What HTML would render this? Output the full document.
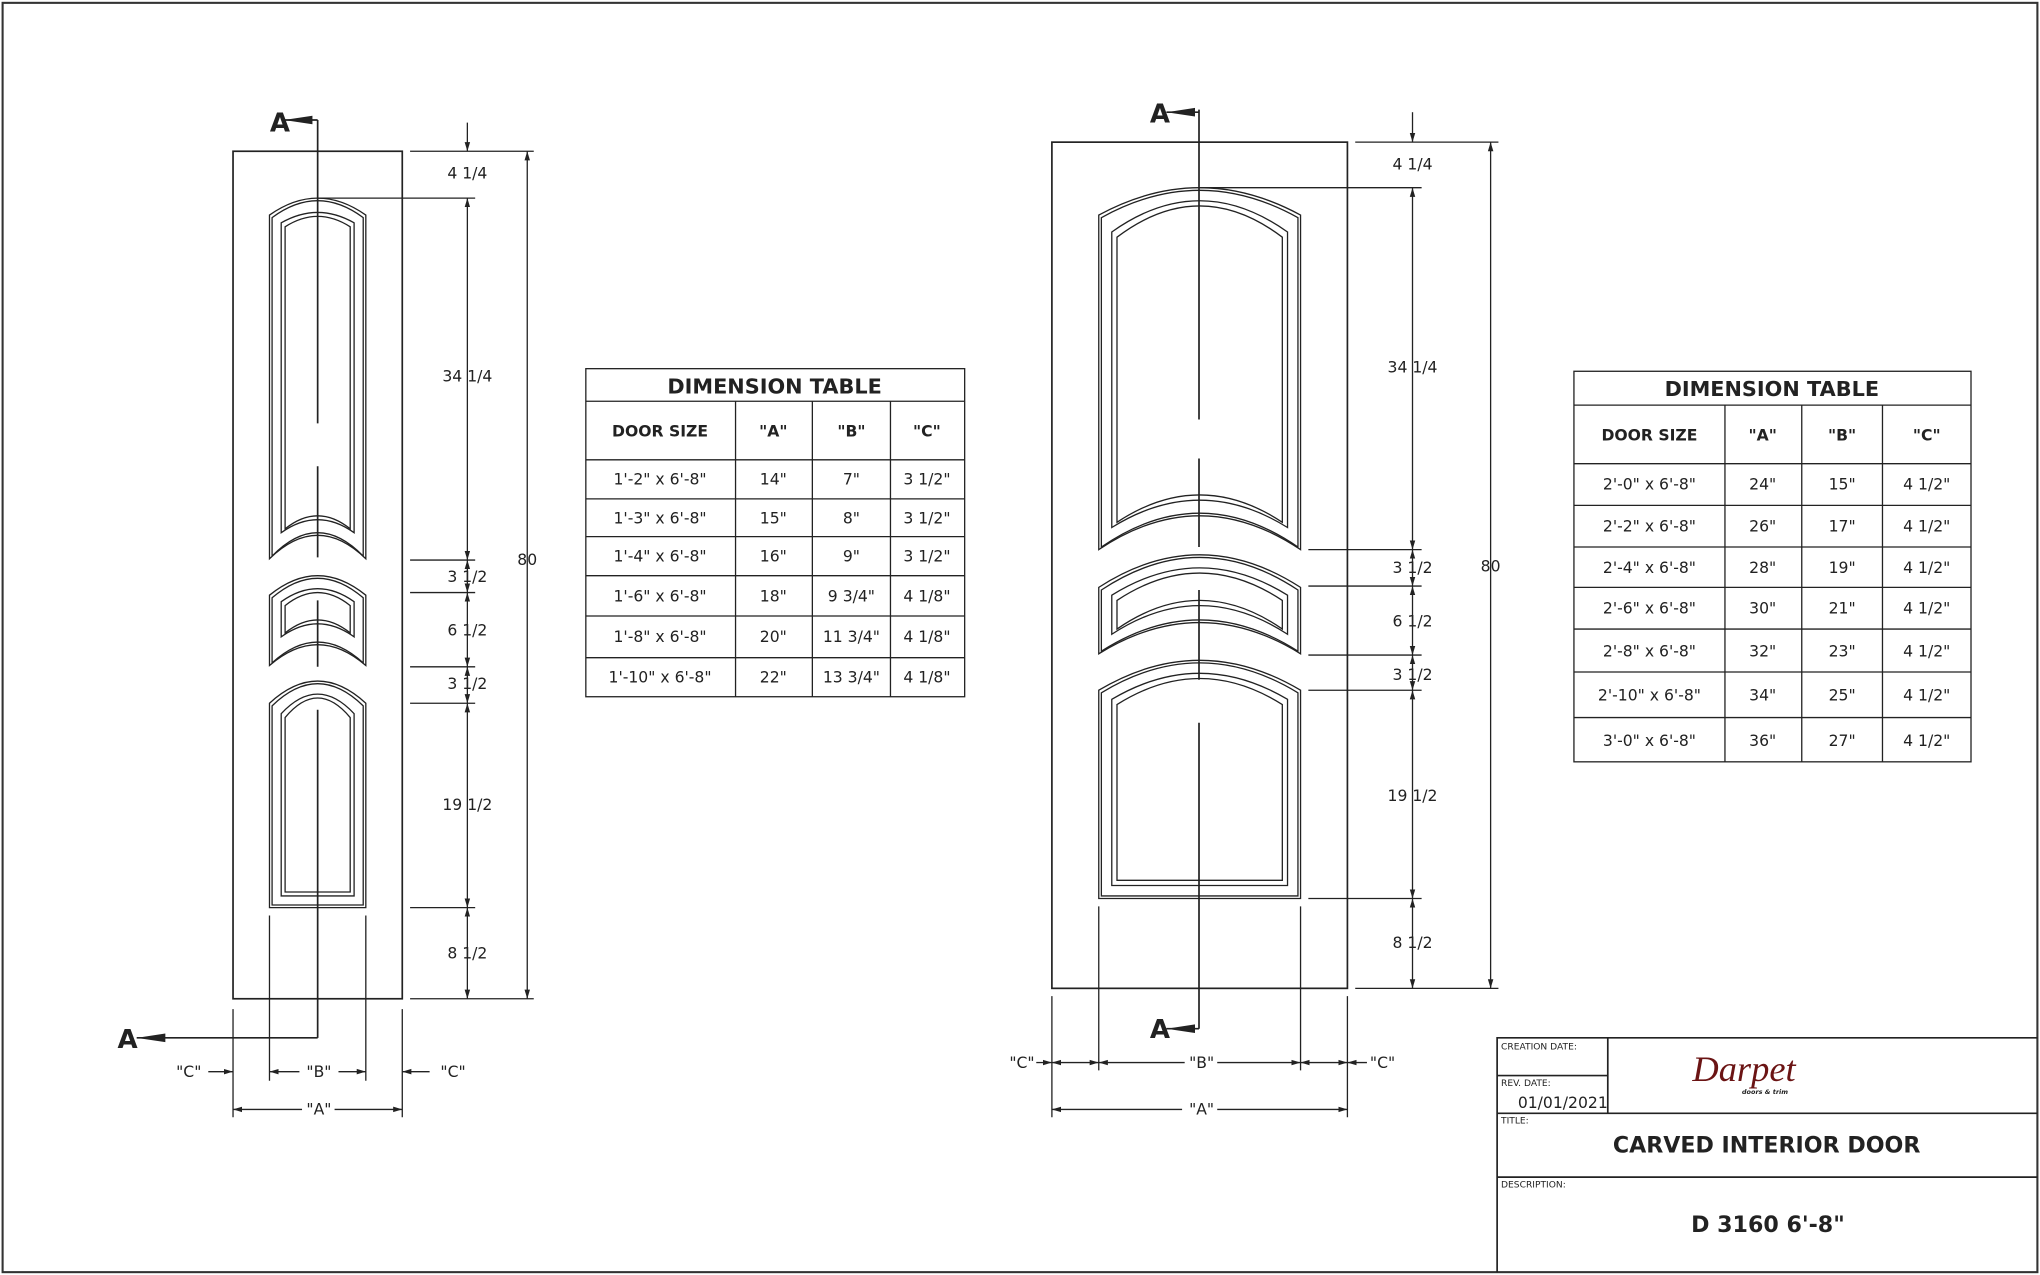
<!DOCTYPE html>
<html><head><meta charset="utf-8"><style>
html,body{margin:0;padding:0;background:#fff}
svg{display:block}
text{font-family:"DejaVu Sans","Liberation Sans",sans-serif;fill:#222}
text.logo{font-family:"Liberation Serif",serif;font-style:italic;fill:#6b1414}
</style></head><body>
<svg width="2040" height="1275" viewBox="0 0 1567 979" xmlns="http://www.w3.org/2000/svg">
<defs>
<marker id="ar" viewBox="0 0 10 10" refX="10" refY="5" markerWidth="7" markerHeight="7" orient="auto-start-reverse" markerUnits="userSpaceOnUse"><path d="M0,2 L10,5 L0,8Z" fill="#222"/></marker>
<marker id="big" viewBox="0 0 10 10" refX="10" refY="5" markerWidth="22" markerHeight="22" orient="auto" markerUnits="userSpaceOnUse"><path d="M0,3.5 L10,5 L0,6.5Z" fill="#222"/></marker>
</defs>
<rect x="2" y="2" width="1563" height="975" fill="none" stroke="#333" stroke-width="1.6"/>
<g fill="none" stroke="#222" stroke-width="1">
<!-- LEFT DOOR -->
<rect x="179" y="116" width="130" height="651" stroke-width="1.3"/>
<path d="M207,429 L207,165 Q244,139 281,165 L281,429 Q244,393 207,429Z"/>
<path d="M209,427 L209,167 Q244,141 279,167 L279,427 Q244,391 209,427Z"/>
<path d="M216,409 L216,171 Q244,155 272,171 L272,409 Q244,389 216,409Z"/>
<path d="M219,406 L219,174 Q244,158 269,174 L269,406 Q244,386 219,406Z"/>
<path d="M207,511 L207,457 Q244,427 281,457 L281,511 Q244,479 207,511Z"/>
<path d="M209,509 L209,459 Q244,429 279,459 L279,509 Q244,477 209,509Z"/>
<path d="M216,489 L216,462 Q244,442 272,462 L272,489 Q244,469 216,489Z"/>
<path d="M219,486 L219,465 Q244,445 269,465 L269,486 Q244,466 219,486Z"/>
<path d="M207,697 L207,540 Q244,506 281,540 L281,697Z"/>
<path d="M209,695 L209,542 Q244,508 279,542 L279,695Z"/>
<path d="M216,688 L216,548 Q244,518 272,548 L272,688Z"/>
<path d="M219,685 L219,551 Q244,521 269,551 L269,685Z"/>
<path d="M244,92 L244,325 M244,358 L244,428 M244,461 L244,512 M244,545 L244,797" stroke-width="1.3"/>
<path d="M244,92 L218,92" stroke-width="1.3" marker-end="url(#big)"/>
<path d="M244,797 L105,797" stroke-width="1.3" marker-end="url(#big)"/>
<path d="M315,116 L410,116 M244,152 L365,152 M315,430 L365,430 M315,455 L365,455 M315,512 L365,512 M315,540 L365,540 M315,697 L365,697 M315,767 L410,767"/>
<path d="M359,94 L359,116" marker-end="url(#ar)"/>
<path d="M359,152 L359,430" marker-start="url(#ar)" marker-end="url(#ar)"/>
<path d="M359,430 L359,455" marker-start="url(#ar)" marker-end="url(#ar)"/>
<path d="M359,455 L359,512" marker-start="url(#ar)" marker-end="url(#ar)"/>
<path d="M359,512 L359,540" marker-start="url(#ar)" marker-end="url(#ar)"/>
<path d="M359,540 L359,697" marker-start="url(#ar)" marker-end="url(#ar)"/>
<path d="M359,697 L359,767" marker-start="url(#ar)" marker-end="url(#ar)"/>
<path d="M405,116 L405,767" marker-start="url(#ar)" marker-end="url(#ar)"/>
<path d="M179,775 L179,858 M207,703 L207,830 M281,703 L281,830 M309,775 L309,858"/>
<path d="M160,823 L179,823" marker-end="url(#ar)"/>
<path d="M207,823 L230,823" marker-start="url(#ar)"/><path d="M260,823 L281,823" marker-end="url(#ar)"/>
<path d="M309,823 L330,823" marker-start="url(#ar)"/>
<path d="M179,852 L232,852" marker-start="url(#ar)"/><path d="M257,852 L309,852" marker-end="url(#ar)"/>

<!-- RIGHT DOOR -->
<rect x="808" y="109" width="227" height="650" stroke-width="1.3"/>
<path d="M844,422 L844,165 Q921.5,123 999,165 L999,422 Q921.5,370 844,422Z"/>
<path d="M846,420 L846,167 Q921.5,125 997,167 L997,420 Q921.5,368 846,420Z"/>
<path d="M854,405 L854,178 Q921.5,130 989,178 L989,405 Q921.5,363 854,405Z"/>
<path d="M858,401 L858,182 Q921.5,134 985,182 L985,401 Q921.5,359 858,401Z"/>
<path d="M844,502 L844,451 Q921.5,401 999,451 L999,502 Q921.5,454 844,502Z"/>
<path d="M846,500 L846,453 Q921.5,403 997,453 L997,500 Q921.5,452 846,500Z"/>
<path d="M854,487 L854,457 Q921.5,415 989,457 L989,487 Q921.5,443 854,487Z"/>
<path d="M858,483 L858,461 Q921.5,419 985,461 L985,483 Q921.5,439 858,483Z"/>
<path d="M844,690 L844,530 Q921.5,484 999,530 L999,690Z"/>
<path d="M846,688 L846,532 Q921.5,486 997,532 L997,688Z"/>
<path d="M854,680 L854,537 Q921.5,497 989,537 L989,680Z"/>
<path d="M858,676 L858,541 Q921.5,501 985,541 L985,676Z"/>
<path d="M921,84 L921,322 M921,352 L921,420 M921,453 L921,522 M921,555 L921,790" stroke-width="1.3"/>
<path d="M921,86 L896,86" stroke-width="1.3" marker-end="url(#big)"/>
<path d="M921,790 L896,790" stroke-width="1.3" marker-end="url(#big)"/>
<path d="M1041,109 L1151,109 M921,144 L1092,144 M1005,422 L1092,422 M1005,450 L1092,450 M1005,503 L1092,503 M1005,530 L1092,530 M1005,690 L1092,690 M1041,759 L1151,759"/>
<path d="M1085,86 L1085,109" marker-end="url(#ar)"/>
<path d="M1085,144 L1085,422" marker-start="url(#ar)" marker-end="url(#ar)"/>
<path d="M1085,422 L1085,450" marker-start="url(#ar)" marker-end="url(#ar)"/>
<path d="M1085,450 L1085,503" marker-start="url(#ar)" marker-end="url(#ar)"/>
<path d="M1085,503 L1085,530" marker-start="url(#ar)" marker-end="url(#ar)"/>
<path d="M1085,530 L1085,690" marker-start="url(#ar)" marker-end="url(#ar)"/>
<path d="M1085,690 L1085,759" marker-start="url(#ar)" marker-end="url(#ar)"/>
<path d="M1145,109 L1145,759" marker-start="url(#ar)" marker-end="url(#ar)"/>
<path d="M808,765 L808,858 M844,696 L844,822 M999,696 L999,822 M1035,765 L1035,858"/>
<path d="M796,816 L808,816" marker-end="url(#ar)"/><path d="M808,816 L844,816" marker-start="url(#ar)" marker-end="url(#ar)"/>
<path d="M844,816 L910,816" marker-start="url(#ar)"/><path d="M935,816 L999,816" marker-end="url(#ar)"/>
<path d="M999,816 L1035,816" marker-start="url(#ar)" marker-end="url(#ar)"/><path d="M1035,816 L1050,816" marker-start="url(#ar)"/>
<path d="M808,852 L908,852" marker-start="url(#ar)"/><path d="M935,852 L1035,852" marker-end="url(#ar)"/>

<rect x="450" y="283" width="291" height="252"/>
<path d="M450,308 H741 M450,353 H741 M450,383 H741 M450,412 H741 M450,442 H741 M450,473 H741 M450,505 H741"/>
<path d="M565,308 V535 M624,308 V535 M684,308 V535"/>
<rect x="1209" y="285" width="305" height="300"/>
<path d="M1209,311 H1514 M1209,356 H1514 M1209,388 H1514 M1209,420 H1514 M1209,451 H1514 M1209,483 H1514 M1209,516 H1514 M1209,551 H1514"/>
<path d="M1325,311 V585 M1384,311 V585 M1446,311 V585"/>
<path d="M1150,977 V797 H1565 M1150,855 H1565 M1150,904 H1565 M1235,797 V855 M1150,826 H1235" stroke-width="1.3"/>
</g>

<g font-size="12" text-anchor="middle">
<text x="215" y="101" font-size="20" font-weight="bold">A</text>
<text x="98" y="805" font-size="20" font-weight="bold">A</text>
<text x="891" y="94" font-size="20" font-weight="bold">A</text>
<text x="891" y="797" font-size="20" font-weight="bold">A</text>
<text x="359" y="137">4 1/4</text><text x="359" y="293">34 1/4</text><text x="359" y="447">3 1/2</text><text x="359" y="488">6 1/2</text><text x="359" y="529">3 1/2</text><text x="359" y="622">19 1/2</text><text x="359" y="736">8 1/2</text><text x="405" y="434">80</text>
<text x="145" y="827">"C"</text><text x="245" y="827">"B"</text><text x="348" y="827">"C"</text><text x="245" y="856">"A"</text>
<text x="1085" y="130">4 1/4</text><text x="1085" y="286">34 1/4</text><text x="1085" y="440">3 1/2</text><text x="1085" y="481">6 1/2</text><text x="1085" y="522">3 1/2</text><text x="1085" y="615">19 1/2</text><text x="1085" y="728">8 1/2</text><text x="1145" y="439">80</text>
<text x="785" y="820">"C"</text><text x="923" y="820">"B"</text><text x="1062" y="820">"C"</text><text x="923" y="856">"A"</text>

<text x="595" y="302" font-size="16" font-weight="bold">DIMENSION TABLE</text>
<g font-weight="bold"><text x="507" y="335">DOOR SIZE</text><text x="594" y="335">"A"</text><text x="654" y="335">"B"</text><text x="712" y="335">"C"</text></g>
<text x="507" y="372">1'-2" x 6'-8"</text><text x="594" y="372">14"</text><text x="654" y="372">7"</text><text x="712" y="372">3 1/2"</text>
<text x="507" y="402">1'-3" x 6'-8"</text><text x="594" y="402">15"</text><text x="654" y="402">8"</text><text x="712" y="402">3 1/2"</text>
<text x="507" y="431">1'-4" x 6'-8"</text><text x="594" y="431">16"</text><text x="654" y="431">9"</text><text x="712" y="431">3 1/2"</text>
<text x="507" y="462">1'-6" x 6'-8"</text><text x="594" y="462">18"</text><text x="654" y="462">9 3/4"</text><text x="712" y="462">4 1/8"</text>
<text x="507" y="493">1'-8" x 6'-8"</text><text x="594" y="493">20"</text><text x="654" y="493">11 3/4"</text><text x="712" y="493">4 1/8"</text>
<text x="507" y="524">1'-10" x 6'-8"</text><text x="594" y="524">22"</text><text x="654" y="524">13 3/4"</text><text x="712" y="524">4 1/8"</text>

<text x="1361" y="304" font-size="16" font-weight="bold">DIMENSION TABLE</text>
<g font-weight="bold"><text x="1267" y="338">DOOR SIZE</text><text x="1354" y="338">"A"</text><text x="1415" y="338">"B"</text><text x="1480" y="338">"C"</text></g>
<text x="1267" y="376">2'-0" x 6'-8"</text><text x="1354" y="376">24"</text><text x="1415" y="376">15"</text><text x="1480" y="376">4 1/2"</text>
<text x="1267" y="408">2'-2" x 6'-8"</text><text x="1354" y="408">26"</text><text x="1415" y="408">17"</text><text x="1480" y="408">4 1/2"</text>
<text x="1267" y="440">2'-4" x 6'-8"</text><text x="1354" y="440">28"</text><text x="1415" y="440">19"</text><text x="1480" y="440">4 1/2"</text>
<text x="1267" y="471">2'-6" x 6'-8"</text><text x="1354" y="471">30"</text><text x="1415" y="471">21"</text><text x="1480" y="471">4 1/2"</text>
<text x="1267" y="504">2'-8" x 6'-8"</text><text x="1354" y="504">32"</text><text x="1415" y="504">23"</text><text x="1480" y="504">4 1/2"</text>
<text x="1267" y="538">2'-10" x 6'-8"</text><text x="1354" y="538">34"</text><text x="1415" y="538">25"</text><text x="1480" y="538">4 1/2"</text>
<text x="1267" y="573">3'-0" x 6'-8"</text><text x="1354" y="573">36"</text><text x="1415" y="573">27"</text><text x="1480" y="573">4 1/2"</text>
</g>

<g text-anchor="start" font-size="7">
<text x="1153" y="806">CREATION DATE:</text>
<text x="1153" y="834">REV. DATE:</text>
<text x="1153" y="863">TITLE:</text>
<text x="1153" y="912">DESCRIPTION:</text>
</g>
<text x="1235" y="851" font-size="12" text-anchor="end">01/01/2021</text>
<text class="logo" x="1300" y="830" font-size="28">Darpet</text>
<text x="1338" y="840" font-size="5" font-style="italic" font-weight="bold">doors &amp; trim</text>
<text x="1357" y="885" font-size="17" font-weight="bold" text-anchor="middle">CARVED INTERIOR DOOR</text>
<text x="1358" y="946" font-size="17" font-weight="bold" text-anchor="middle">D 3160 6'-8"</text>
</svg>
</body></html>
